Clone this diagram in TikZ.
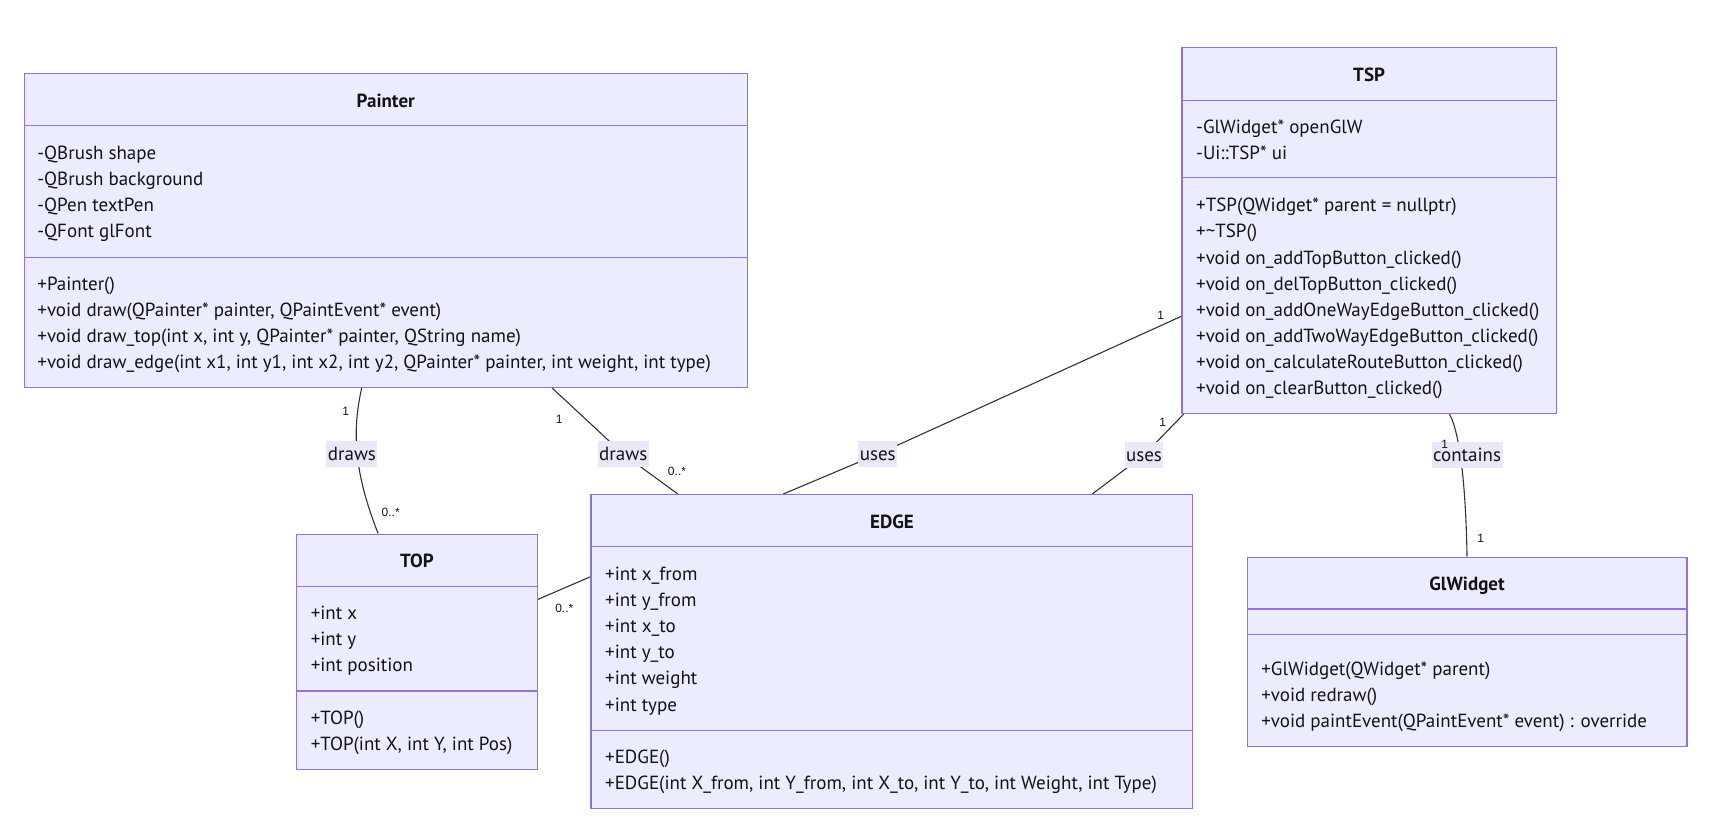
\documentclass[tikz,border=0pt]{standalone}
\usepackage{fontspec}
\setmainfont{PT Sans}
\newfontfamily\cardfamily{Liberation Sans}
\usetikzlibrary{calc,fit,backgrounds}
\definecolor{classfill}{HTML}{ECECFF}
\definecolor{classline}{HTML}{9370DB}
\definecolor{linkcol}{HTML}{333333}
\definecolor{labelbg}{HTML}{E8E8F8}
\definecolor{textcol}{HTML}{131313}
\newcommand\memberfont{\fontsize{19pt}{22pt}\selectfont}
\newcommand\titlefont{\fontsize{19pt}{22pt}\selectfont\bfseries}
\newcommand\cardfont{\cardfamily\fontsize{12pt}{14pt}\selectfont}

\begin{document}
\begin{tikzpicture}[x=1.09439pt, y=-1.09439pt,
  classbox/.style={draw=classline, fill=classfill, line width=1.1pt, inner sep=0pt},
  divider/.style={draw=classline, line width=1.1pt},
  member/.style={anchor=west, inner sep=0pt, text height=14pt, text depth=1.5pt, font=\memberfont, text=textcol},
  title/.style={member, anchor=center, font=\titlefont},
  link/.style={draw=linkcol, line width=1.1pt},
  rel/.style={fill=labelbg, inner xsep=1.5pt, inner ysep=0pt, text height=14pt, text depth=1.5pt, minimum height=25.7pt, font=\memberfont, text=textcol},
  card/.style={inner sep=0pt, font=\cardfont, text=textcol}]

\useasboundingbox (0,0) rectangle (1568,765);

% ---------- Painter ----------
\node[classbox, fit={(22,67) (683,354)}] (painter) {};
\draw[divider] (painter.west |- 0,115) -- (painter.east |- 0,115);
\draw[divider] (painter.west |- 0,235) -- (painter.east |- 0,235);
\node[title] (painterT) at (352.5,92.6) {Painter};
\node[member] (painterA1) at (34,140) {-QBrush shape};
\node[member] (painterA2) at (34,163.8) {-QBrush background};
\node[member] (painterA3) at (34,187.6) {-QPen textPen};
\node[member] (painterA4) at (34,211.6) {-QFont glFont};
\node[member] (painterM1) at (34,259.5) {+Painter()};
\node[member] (painterM2) at (34,283.3) {+void draw(QPainter* painter, QPaintEvent* event)};
\node[member] (painterM3) at (34,307.1) {+void draw\_top(int x, int y, QPainter* painter, QString name)};
\node[member] (painterM4) at (34,330.9) {+void draw\_edge(int x1, int y1, int x2, int y2, QPainter* painter, int weight, int type)};

% ---------- TSP ----------
\node[classbox, fit={(1080,43) (1422,378)}] (tsp) {};
\draw[divider] (tsp.west |- 0,91.7) -- (tsp.east |- 0,91.7);
\draw[divider] (tsp.west |- 0,162.6) -- (tsp.east |- 0,162.6);
\node[title] (tspT) at (1251,68.5) {TSP};
\node[member] (tspA1) at (1092.8,116.3) {-GlWidget* openGlW};
\node[member] (tspA2) at (1092.8,140) {-Ui::TSP* ui};
\node[member] (tspM1) at (1092.8,187.6) {+TSP(QWidget* parent = nullptr)};
\node[member] (tspM2) at (1092.8,211.6) {+\textasciitilde TSP()};
\node[member] (tspM3) at (1092.8,235.6) {+void on\_addTopButton\_clicked()};
\node[member] (tspM4) at (1092.8,259.5) {+void on\_delTopButton\_clicked()};
\node[member] (tspM5) at (1092.8,283.3) {+void on\_addOneWayEdgeButton\_clicked()};
\node[member] (tspM6) at (1092.8,307.1) {+void on\_addTwoWayEdgeButton\_clicked()};
\node[member] (tspM7) at (1092.8,330.9) {+void on\_calculateRouteButton\_clicked()};
\node[member] (tspM8) at (1092.8,354.9) {+void on\_clearButton\_clicked()};

% ---------- TOP ----------
\node[classbox, fit={(271,488) (491,703)}] (top) {};
\draw[divider] (top.west |- 0,535.5) -- (top.east |- 0,535.5);
\draw[divider] (top.west |- 0,631.4) -- (top.east |- 0,631.4);
\node[title] (topT) at (381,512.6) {TOP};
\node[member] (topA1) at (283.8,560.4) {+int x};
\node[member] (topA2) at (283.8,584.2) {+int y};
\node[member] (topA3) at (283.8,608.2) {+int position};
\node[member] (topM1) at (283.8,656.2) {+TOP()};
\node[member] (topM2) at (283.8,680) {+TOP(int X, int Y, int Pos)};

% ---------- EDGE ----------
\node[classbox, fit={(540,452) (1090,739)}] (edge) {};
\draw[divider] (edge.west |- 0,499.5) -- (edge.east |- 0,499.5);
\draw[divider] (edge.west |- 0,667.3) -- (edge.east |- 0,667.3);
\node[title] (edgeT) at (815,477.3) {EDGE};
\node[member] (edgeA1) at (552.8,524.8) {+int x\_from};
\node[member] (edgeA2) at (552.8,548.6) {+int y\_from};
\node[member] (edgeA3) at (552.8,572.4) {+int x\_to};
\node[member] (edgeA4) at (552.8,596.2) {+int y\_to};
\node[member] (edgeA5) at (552.8,620) {+int weight};
\node[member] (edgeA6) at (552.8,644) {+int type};
\node[member] (edgeM1) at (552.8,691.8) {+EDGE()};
\node[member] (edgeM2) at (552.8,715.6) {+EDGE(int X\_from, int Y\_from, int X\_to, int Y\_to, int Weight, int Type)};

% ---------- GlWidget ----------
\node[classbox, fit={(1139.5,509) (1541.5,682)}] (gl) {};
\draw[divider] (gl.west |- 0,556.5) -- (gl.east |- 0,556.5);
\draw[divider] (gl.west |- 0,580) -- (gl.east |- 0,580);
\node[title] (glT) at (1340.5,533.6) {GlWidget};
\node[member] (glM1) at (1152.3,611.6) {+GlWidget(QWidget* parent)};
\node[member] (glM2) at (1152.3,635.4) {+void redraw()};
\node[member] (glM3) at (1152.3,659) {+void paintEvent(QPaintEvent* event) : override};

% ---------- relation labels ----------
\node[rel] (drawsTop) at (321.6,415) {draws};
\node[rel] (drawsEdge) at (569.5,415) {draws};
\node[rel] (usesA) at (802,415) {uses};
\node[rel] (usesB) at (1045.3,415.8) {uses};
\node[rel] (contains) at (1340.5,415.8) {contains};

% ---------- multiplicities ----------
\node[card] (c1) at (316,375.5) {1};
\node[card] (c2) at (357,468) {0..*};
\node[card] (c3) at (511,383) {1};
\node[card] (c4) at (618.6,430.6) {0..*};
\node[card] (c5) at (1060.6,288.5) {1};
\node[card] (c6) at (1062.4,386) {1};
\node[card] (c8) at (1320,405.7) {1};
\node[card] (c9) at (1353,491.6) {1};
\node[card] (c10) at (515.6,555.8) {0..*};

% ---------- connectors, behind boxes and labels ----------
\begin{scope}[on background layer]
  \fill[white] (0,0) rectangle (1568,765);
  \draw[link] ($(painter.south west)+(309,0)$) .. controls +(-9,40) and +(-22,-56) .. ($(top.north west)+(75,0)$);
  \draw[link] ($(painter.south west)+(483,0)$) -- (drawsEdge.center) -- ($(edge.north west)+(80,0)$);
  \draw[link] ($(tsp.north west)+(0,246.5)$) -- (usesA.center) -- ($(edge.north west)+(176,0)$);
  \draw[link] ($(tsp.south west)+(2,0)$) -- (usesB.center) -- ($(edge.north west)+(458.4,0)$);
  \draw[link] ($(tsp.south west)+(245,0)$) .. controls +(10,18) and +(-1,-60) .. ($(gl.north west)+(201.5,0)$);
  \draw[link] ($(top.north east)+(0,60.2)$) -- ($(edge.north west)+(0,75.5)$);
  \node[card] (c7) at (1023,456) {0..*};
\end{scope}
\end{tikzpicture}
\end{document}
